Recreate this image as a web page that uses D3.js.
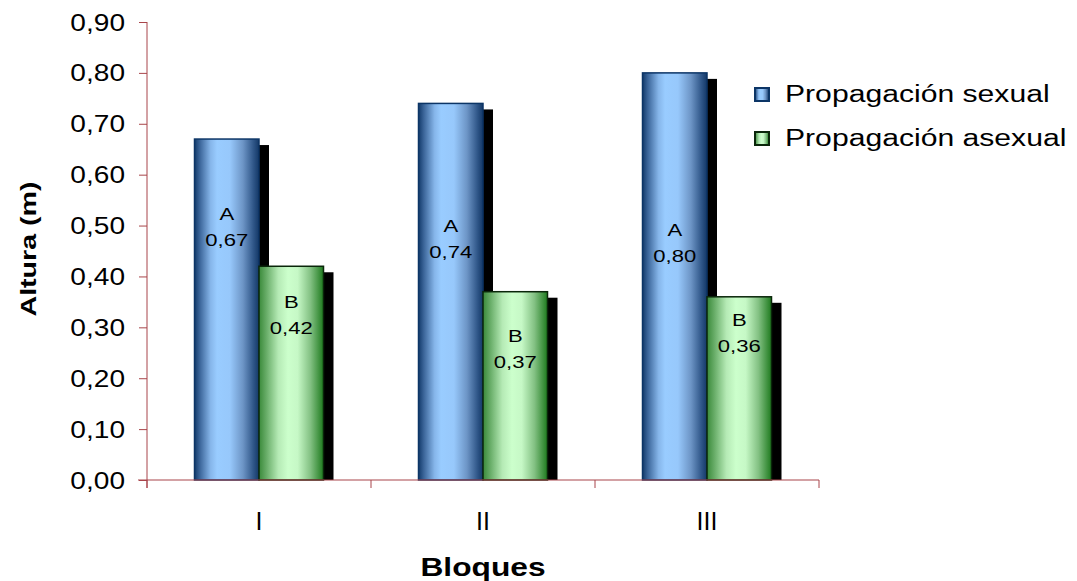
<!DOCTYPE html>
<html>
<head>
<meta charset="utf-8">
<script src="https://cdn.jsdelivr.net/npm/d3@7/dist/d3.min.js"></script>
<style>
  html, body { margin: 0; padding: 0; background: #fff; }
  svg { display: block; }
  text { font-family: Arial, "Liberation Sans", sans-serif; fill: #000; }
</style>
</head>
<body>
<svg id="chart" width="1077" height="581"></svg>
<script>
// Altura media por bloque y tipo de propagación
const bloques = ["I", "II", "III"];
const series = ["Propagación sexual", "Propagación asexual"];
const sexual = [0.67, 0.74, 0.80];
const asexual = [0.42, 0.37, 0.36];
const letrasSexual = ["A", "A", "A"];
const letrasAsexual = ["B", "B", "B"];
const yTicks = [0, 0.1, 0.2, 0.3, 0.4, 0.5, 0.6, 0.7, 0.8, 0.9];

// Altura (en unidades del eje) donde se ubica la letra de cada etiqueta
const labelLevelSexual = [0.511, 0.488, 0.479];
const labelLevelAsexual = [0.338, 0.272, 0.303];

const svg = d3.select("#chart");
const axisColor = "#a8454a";
const fmt = v => d3.format(".2f")(v).replace(".", ",");

const plot = { left: 147, right: 819, top: 22, bottom: 480 };

const y = d3.scaleLinear().domain([0, 0.9]).range([plot.bottom, plot.top]);
const x0 = d3.scaleBand().domain(bloques).range([plot.left, plot.right]).padding(0);
const groupW = 129;
const x1 = d3.scaleBand().domain(series)
  .range([(x0.bandwidth() - groupW) / 2, (x0.bandwidth() + groupW) / 2]).padding(0);

// Degradados horizontales de las barras
const defs = svg.append("defs");
function gradient(id, stops) {
  const g = defs.append("linearGradient").attr("id", id)
    .attr("x1", "0%").attr("x2", "100%").attr("y1", "0%").attr("y2", "0%");
  stops.forEach(([o, c]) => g.append("stop").attr("offset", o).attr("stop-color", c));
}
gradient("gBlue", [["0%", "#123a6a"], ["8%", "#3a6498"], ["25%", "#86b6ea"], ["35%", "#99ccff"], ["55%", "#97c8fb"], ["75%", "#6d95c6"], ["92%", "#2d5486"], ["100%", "#143866"]]);
gradient("gGreen", [["0%", "#3a8a3a"], ["10%", "#62a862"], ["30%", "#b5eab5"], ["45%", "#ccffcc"], ["60%", "#c6f8c6"], ["80%", "#82c082"], ["100%", "#1e7a1e"]]);

const styles = [
  { fill: "url(#gBlue)", stroke: "#0c3566" },
  { fill: "url(#gGreen)", stroke: "#0a260a" }
];

const rows = bloques.map((b, i) => ({
  bloque: b,
  bars: [
    { s: 0, serie: series[0], v: sexual[i], letra: letrasSexual[i], nivel: labelLevelSexual[i] },
    { s: 1, serie: series[1], v: asexual[i], letra: letrasAsexual[i], nivel: labelLevelAsexual[i] }
  ]
}));

// Sombras
const shadowDx = 10, shadowDy = 6;
const groups = svg.append("g").selectAll("g").data(rows).join("g")
  .attr("transform", d => `translate(${x0(d.bloque)},0)`);

groups.selectAll("rect.shadow").data(d => d.bars).join("rect")
  .attr("class", "shadow")
  .attr("x", d => x1(d.serie) + shadowDx)
  .attr("y", d => y(d.v) + shadowDy)
  .attr("width", x1.bandwidth())
  .attr("height", d => y(0) - y(d.v) - shadowDy)
  .attr("fill", "#000");

groups.selectAll("rect.bar").data(d => d.bars).join("rect")
  .attr("class", "bar")
  .attr("x", d => x1(d.serie))
  .attr("y", d => y(d.v))
  .attr("width", x1.bandwidth())
  .attr("height", d => y(0) - y(d.v))
  .attr("fill", d => styles[d.s].fill)
  .attr("stroke", d => styles[d.s].stroke)
  .attr("stroke-width", 1.5);

// Texto con ligero ensanchamiento horizontal
function wideText(sel, x, yPos, str, opts) {
  const g = sel.append("g")
    .attr("transform", `translate(${x},${yPos}) rotate(${opts.rotate || 0}) scale(${opts.sx || 1},1)`);
  g.append("text").text(str)
    .attr("text-anchor", opts.anchor || "middle")
    .style("font-size", opts.size + "px")
    .style("font-weight", opts.weight || "normal");
  return g;
}

// Etiquetas de las barras: letra y valor
rows.forEach(r => {
  r.bars.forEach(d => {
    const cx = x0(r.bloque) + x1(d.serie) + x1.bandwidth() / 2;
    const yl = y(d.nivel);
    wideText(svg, cx, yl, d.letra, { size: 17, sx: 1.3 });
    wideText(svg, cx, yl + 26, fmt(d.v), { size: 17, sx: 1.3 });
  });
});

// Eje Y
const yAxis = d3.axisLeft(y).tickValues(yTicks).tickSize(8).tickFormat("");
const gy = svg.append("g").attr("transform", `translate(${plot.left},0)`).call(yAxis);
gy.select(".domain").attr("stroke", axisColor).attr("d", `M0,${plot.top}V${plot.bottom + 8}`);
gy.selectAll(".tick line").attr("stroke", axisColor);
yTicks.forEach(v => wideText(svg, 125, y(v) + 8.5, fmt(v), { size: 24, anchor: "end", sx: 1.17 }));

// Eje X
const xAxis = d3.axisBottom(x0).tickSize(0).tickFormat("");
const gx = svg.append("g").attr("transform", `translate(0,${plot.bottom})`).call(xAxis);
gx.select(".domain").attr("stroke", axisColor).attr("d", `M${plot.left - 9},0H${plot.right}`);
const edges = bloques.map(b => x0(b)).concat([plot.right]);
gx.selectAll("line.edge").data(edges).join("line").attr("class", "edge")
  .attr("x1", d => d).attr("x2", d => d).attr("y1", 0).attr("y2", 8)
  .attr("stroke", axisColor);
bloques.forEach(b => wideText(svg, x0(b) + x0.bandwidth() / 2, 530, b, { size: 25, sx: 1.0 }));

// Títulos de los ejes
wideText(svg, 483, 576, "Bloques", { size: 26, weight: "bold", sx: 1.22 });
wideText(svg, 36, 249, "Altura (m)", { size: 22, weight: "bold", sx: 1.3, rotate: -90 });

// Leyenda
const legend = svg.append("g").attr("transform", "translate(755,0)");
series.forEach((s, i) => {
  const ly = 88 + i * 44;
  legend.append("rect").attr("x", 0).attr("y", ly).attr("width", 14).attr("height", 13)
    .attr("fill", styles[i].fill).attr("stroke", styles[i].stroke).attr("stroke-width", 2);
  wideText(legend, 30, ly + 14, s, { size: 23, anchor: "start", sx: 1.31 });
});
</script>
</body>
</html>
